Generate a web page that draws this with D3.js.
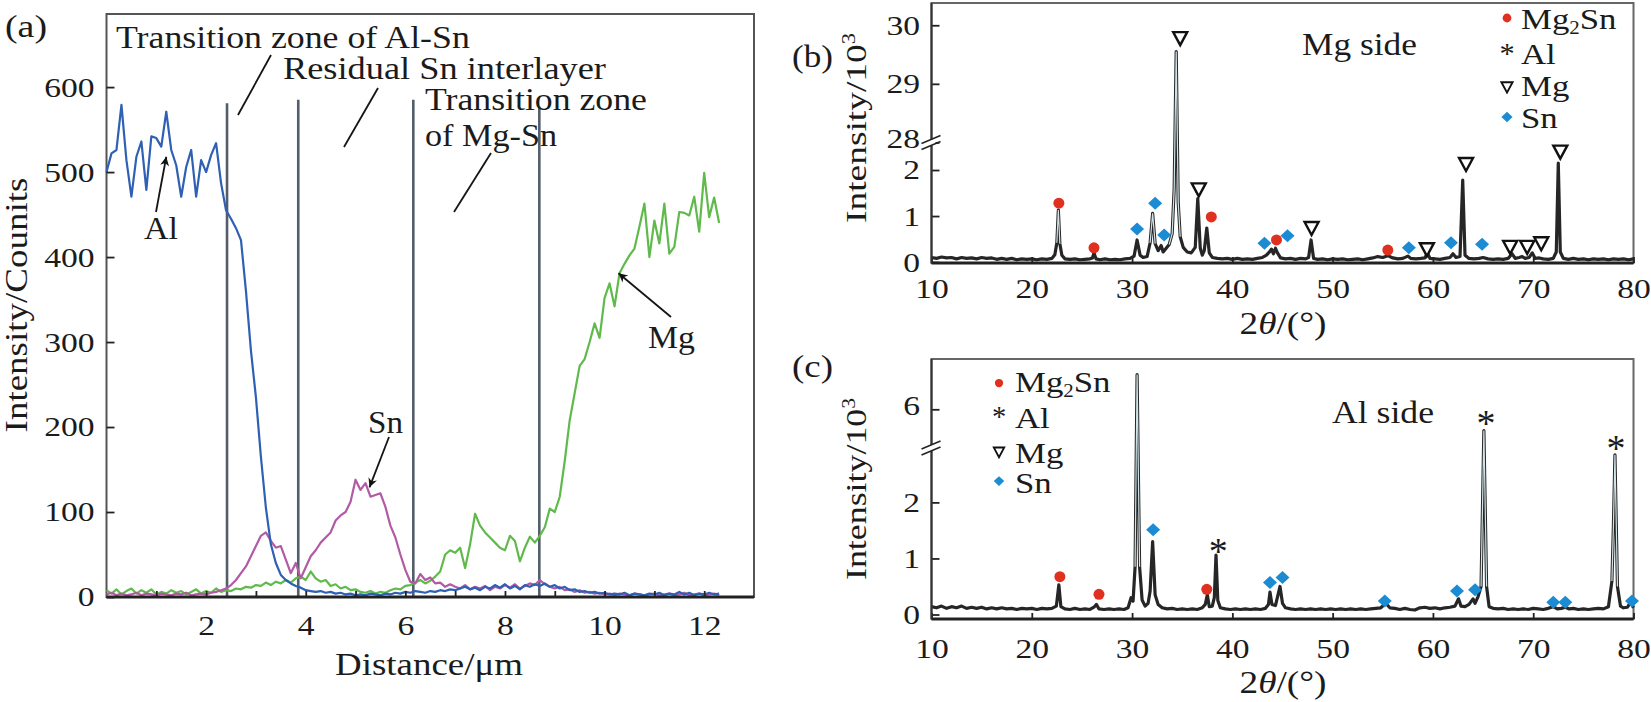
<!DOCTYPE html>
<html>
<head>
<meta charset="utf-8">
<script src="https://cdn.jsdelivr.net/npm/d3@7"></script>
<style>
  body { margin: 0; background: #fff; }
  text { font-family: "Liberation Serif", "Times New Roman", serif; fill: #1b1b1b; }
</style>
</head>
<body>
<script>
// ---- (a) EDS line scan across the joint, one reading every 0.1 um (0 .. 12.3)
var scanStep = 0.1;
var alCounts = [
  500, 522, 526, 579, 514, 471, 518, 536, 479, 542,
  540, 530, 571, 526, 508, 471, 506, 526, 471, 514,
  500, 520, 534, 487, 455, 445, 434, 420, 360, 290,
  235, 165, 105, 62, 40, 26, 20, 16, 13, 11,
  8, 7, 6, 7, 5, 6, 4, 5, 3, 4,
  2, 3, 2, 4, 3, 2, 4, 3, 5, 4,
  6, 5, 7, 6, 5, 7, 6, 8, 7, 9,
  8, 10, 12, 9, 11, 8, 12, 10, 14, 11,
  15, 10, 13, 9, 14, 12, 15, 13, 16, 12,
  14, 10, 12, 8, 9, 6, 7, 5, 6, 4,
  5, 3, 4, 3, 5, 2, 4, 3, 2, 4,
  3, 5, 2, 4, 3, 6, 3, 5, 2, 4,
  3, 5, 3, 4];
var snCounts = [
  3, 5, 2, 4, 2, 3, 5, 2, 4, 3,
  2, 4, 3, 2, 4, 3, 5, 2, 3, 4,
  3, 5, 6, 8, 10, 14, 20, 28, 36, 48,
  60, 72, 76, 66, 58, 60, 44, 28, 40, 22,
  35, 48, 55, 64, 70, 76, 90, 96, 100, 112,
  138, 126, 134, 118, 120, 122, 106, 84, 70, 50,
  32, 18, 16, 27, 20, 23, 16, 17, 12, 15,
  12, 10, 14, 9, 12, 10, 13, 8, 12, 10,
  14, 11, 15, 10, 13, 16, 14, 20, 15, 12,
  10, 12, 8, 9, 6, 8, 5, 6, 4, 5,
  3, 4, 2, 4, 3, 2, 4, 3, 2, 3,
  4, 2, 3, 4, 2, 3, 5, 2, 3, 4,
  2, 3, 4, 2];
var mgCounts = [
  8, 4, 9, 3, 7, 10, 4, 8, 5, 9,
  3, 6, 4, 8, 5, 7, 3, 6, 9, 4,
  7, 5, 10, 6, 8, 7, 10, 9, 12, 11,
  14, 13, 17, 14, 18, 16, 20, 17, 22, 24,
  20, 30, 22, 18, 20, 13, 15, 10, 12, 8,
  9, 6, 5, 7, 4, 6, 5, 8, 10, 9,
  13, 14, 17, 20, 16, 19, 24, 30, 50, 55,
  52, 58, 34, 62, 98, 84, 76, 70, 64, 58,
  55, 72, 66, 42, 58, 71, 64, 72, 82, 104,
  100, 118, 160, 208, 240, 272, 280, 300, 322, 305,
  352, 369, 342, 381, 392, 402, 410, 436, 463, 400,
  443, 416, 463, 404, 412, 453, 452, 449, 471, 430,
  499, 447, 470, 440];
var zoneBounds = [2.42, 3.85, 6.16, 8.69];
var zoneTops = [581, 585, 585, 577];
var distTicks = [1, 2, 3, 4, 5, 6, 7, 8, 9, 10, 11, 12];
var countTicks = [0, 100, 200, 300, 400, 500, 600];

// ---- (b) XRD, Mg side: [2theta, intensity / 10^3]
var mgSideScan = [
  [10,0.10],[10.5,0.08],[11,0.11],[11.5,0.09],[12,0.10],[12.5,0.07],[13,0.10],[13.5,0.08],[14,0.09],[14.5,0.07],
  [15,0.10],[15.5,0.08],[16,0.09],[16.5,0.06],[17,0.08],[17.5,0.06],[18,0.08],[18.5,0.05],[19,0.07],[19.5,0.06],
  [20,0.07],[20.5,0.05],[21,0.07],[21.5,0.06],[22,0.08],[22.3,0.16],[22.5,0.42],[22.65,1.13],[22.8,0.40],[23,0.15],
  [23.3,0.07],[23.8,0.06],[24.3,0.07],[24.8,0.05],[25.3,0.06],[25.8,0.07],[26.05,0.09],[26.2,0.20],[26.4,0.07],[26.8,0.05],
  [27.3,0.07],[27.8,0.05],[28.3,0.06],[28.8,0.05],[29.3,0.07],[29.8,0.08],[30.2,0.13],[30.5,0.48],[30.8,0.15],[31.1,0.10],
  [31.5,0.12],[31.8,0.42],[32.05,1.06],[32.3,0.40],[32.6,0.25],[32.9,0.36],[33.1,0.22],[33.4,0.30],[33.7,0.38],[34.0,0.62],
  [34.2,1.60],[34.4,29.55],[34.6,1.30],[34.8,0.55],[35.1,0.32],[35.5,0.22],[35.9,0.20],[36.3,0.32],[36.55,1.38],[36.8,0.30],
  [37.0,0.15],[37.2,0.25],[37.45,0.74],[37.7,0.20],[38.0,0.10],[38.5,0.08],[39,0.07],[39.5,0.08],[40,0.06],[40.5,0.08],
  [41,0.06],[41.5,0.07],[42,0.06],[42.5,0.08],[43,0.10],[43.4,0.15],[43.7,0.22],[43.9,0.28],[44.1,0.18],[44.3,0.30],
  [44.5,0.20],[44.8,0.09],[45.3,0.07],[45.8,0.08],[46.3,0.06],[46.8,0.08],[47.3,0.07],[47.6,0.10],[47.85,0.48],[48.1,0.08],
  [48.5,0.06],[49,0.07],[49.5,0.05],[50,0.07],[50.5,0.06],[51,0.07],[51.5,0.05],[52,0.06],[52.5,0.07],[53,0.05],
  [53.5,0.07],[54,0.09],[54.5,0.12],[55,0.10],[55.5,0.14],[56,0.09],[56.5,0.07],[57,0.08],[57.5,0.13],[57.8,0.08],
  [58.3,0.07],[58.8,0.08],[59.2,0.09],[59.45,0.20],[59.7,0.08],[60.2,0.07],[60.7,0.06],[61.2,0.08],[61.7,0.10],[62,0.18],
  [62.3,0.10],[62.7,0.12],[62.97,1.78],[63.2,0.15],[63.6,0.08],[64.1,0.07],[64.6,0.08],[65,0.10],[65.5,0.07],[66,0.06],
  [66.5,0.07],[67,0.06],[67.5,0.08],[67.9,0.18],[68.2,0.08],[68.6,0.10],[68.9,0.12],[69.2,0.08],[69.6,0.10],[69.9,0.20],
  [70.2,0.08],[70.6,0.09],[71,0.07],[71.5,0.06],[72,0.08],[72.3,0.22],[72.5,2.15],[72.7,0.22],[73,0.08],[73.5,0.06],
  [74,0.08],[74.5,0.06],[75,0.07],[75.5,0.05],[76,0.07],[76.5,0.06],[77,0.07],[77.5,0.05],[78,0.07],[78.5,0.06],
  [79,0.07],[79.5,0.05],[80,0.07]];
var mgSideMg2Sn = [[22.7,1.28],[26.2,0.31],[37.9,0.98],[44.4,0.48],[55.5,0.26]];
var mgSideSn = [[30.5,0.72],[32.3,1.28],[33.2,0.59],[43.2,0.41],[45.5,0.57],[57.6,0.31],[61.8,0.42],[64.9,0.39]];
var mgSideMg = [[34.8,29.78],[36.65,1.58],[47.9,0.74],[59.4,0.28],[63.3,2.13],[67.7,0.33],[69.4,0.33],[70.8,0.41],[72.7,2.40]];
var mgSideTicks = [0, 1, 2, 28, 29, 30];

// ---- (c) XRD, Al side
var alSideScan = [
  [10,0.14],[10.5,0.12],[11,0.15],[11.5,0.11],[12,0.14],[12.5,0.12],[13,0.15],[13.5,0.11],[14,0.13],[14.5,0.11],
  [15,0.13],[15.5,0.10],[16,0.12],[16.5,0.10],[17,0.12],[17.5,0.10],[18,0.11],[18.5,0.09],[19,0.11],[19.5,0.10],
  [20,0.11],[20.5,0.09],[21,0.11],[21.5,0.10],[22,0.11],[22.45,0.15],[22.7,0.53],[22.9,0.14],[23.3,0.10],[23.8,0.09],
  [24.3,0.11],[24.8,0.09],[25.3,0.10],[25.8,0.09],[26.2,0.13],[26.45,0.18],[26.7,0.10],[27.2,0.09],[27.7,0.10],[28.2,0.09],
  [28.7,0.10],[29.2,0.09],[29.6,0.12],[29.9,0.30],[30.1,0.24],[30.3,0.85],[30.5,6.90],[30.75,0.85],[31,0.26],[31.3,0.15],
  [31.6,0.20],[31.8,0.42],[32.05,1.30],[32.3,0.35],[32.6,0.18],[33,0.12],[33.5,0.10],[34,0.11],[34.5,0.09],[35,0.10],
  [35.5,0.09],[36,0.10],[36.5,0.09],[37,0.12],[37.3,0.18],[37.5,0.35],[37.7,0.14],[38,0.15],[38.2,0.30],[38.37,1.06],
  [38.55,0.25],[38.8,0.12],[39.3,0.10],[39.8,0.09],[40.3,0.10],[40.8,0.09],[41.3,0.10],[41.8,0.09],[42.3,0.10],[42.8,0.09],
  [43.3,0.11],[43.6,0.18],[43.75,0.40],[43.95,0.18],[44.3,0.16],[44.55,0.35],[44.75,0.50],[45,0.20],[45.3,0.12],[45.8,0.10],
  [46.3,0.09],[46.8,0.10],[47.3,0.09],[47.8,0.10],[48.3,0.09],[48.8,0.10],[49.3,0.09],[49.8,0.10],[50.3,0.09],[50.8,0.10],
  [51.3,0.09],[51.8,0.10],[52.3,0.09],[52.8,0.10],[53.3,0.09],[53.8,0.10],[54.3,0.11],[54.8,0.12],[55.3,0.20],[55.7,0.12],
  [56.2,0.11],[56.7,0.09],[57.2,0.11],[57.7,0.09],[58.2,0.08],[58.7,0.12],[59.2,0.13],[59.7,0.11],[60.2,0.12],[60.7,0.10],
  [61.2,0.12],[61.7,0.13],[62.2,0.15],[62.55,0.28],[62.8,0.15],[63.2,0.14],[63.6,0.18],[64,0.28],[64.2,0.20],[64.5,0.32],
  [64.8,0.50],[65.08,5.45],[65.35,0.50],[65.6,0.14],[66,0.11],[66.5,0.10],[67,0.11],[67.5,0.09],[68,0.10],[68.5,0.09],
  [69,0.10],[69.5,0.09],[70,0.11],[70.5,0.10],[71,0.09],[71.5,0.11],[72,0.14],[72.4,0.10],[72.8,0.11],[73.2,0.13],
  [73.6,0.10],[74,0.11],[74.5,0.09],[75,0.10],[75.5,0.09],[76,0.10],[76.5,0.11],[77,0.10],[77.5,0.14],[77.85,0.60],
  [78.0,1.60],[78.15,2.85],[78.4,0.50],[78.7,0.15],[79,0.12],[79.4,0.13],[79.7,0.22],[80,0.12]];
var alSideMg2Sn = [[22.8,0.675],[26.7,0.36],[37.45,0.45]];
var alSideSn = [[32.1,1.51],[43.75,0.57],[45.0,0.66],[55.2,0.24],[62.4,0.42],[64.2,0.44],[72.0,0.22],[73.2,0.22],[79.85,0.24]];
var alSideAl = [[38.6,1.24],[65.3,5.81],[78.25,5.15]];
var alSideTicks = [0, 1, 2, 6];

var thetaTicks = [10, 20, 30, 40, 50, 60, 70, 80];
var phaseKinds = ['circle', 'star', 'tri', 'diamond'];

var red = '#e0301f', blue = '#1b8bd3';

var svg = d3.select('body').append('svg')
  .attr('width', 1651)
  .attr('height', 702)
  .style('display', 'block');

svg.append('defs').append('marker')
  .attr('id', 'head')
  .attr('viewBox', '0 0 10 10')
  .attr('refX', 10).attr('refY', 5)
  .attr('markerWidth', 12).attr('markerHeight', 9)
  .attr('markerUnits', 'userSpaceOnUse')
  .attr('orient', 'auto')
  .append('path')
  .attr('d', 'M0,0L10,5L0,10L3,5Z')
  .attr('fill', '#111');

// the lettering in the figure is wider than Liberation Serif, so labels get stretched sideways
function label(parent, x, y, str, o) {
  o = o || {};
  var g = parent.append('g');
  var t = g.append('text')
    .attr('font-size', o.size || 30)
    .attr('text-anchor', o.anchor || 'start');
  if (typeof str === 'function') str(t); else t.text(str);
  var sx = o.width ? o.width / t.node().getComputedTextLength() : (o.sx || 1.16);
  g.attr('transform', 'translate(' + x + ',' + y + ')' +
    (o.rotate ? ' rotate(' + o.rotate + ')' : '') + ' scale(' + sx + ',1)');
  return t;
}

function styleAxis(g, size) {
  g.attr('font-size', size);
  g.select('.domain').remove();
  g.selectAll('.tick line').attr('stroke', '#222').attr('stroke-width', 1.8);
  g.selectAll('.tick text').attr('transform', 'scale(1.2,1)');
}

function arrow(g, x1, y1, x2, y2, head) {
  var l = g.append('line')
    .attr('x1', x1).attr('y1', y1).attr('x2', x2).attr('y2', y2)
    .attr('stroke', '#151515').attr('stroke-width', 1.8);
  if (head) l.attr('marker-end', 'url(#head)');
}

// phase symbols, s = size factor
function shape(g, kind, cx, cy, s) {
  if (kind === 'circle')
    return g.append('circle').attr('cx', cx).attr('cy', cy).attr('r', 5.5 * s).attr('fill', red);
  if (kind === 'diamond')
    return g.append('path')
      .attr('d', 'M' + cx + ',' + (cy - 6.5 * s) + 'L' + (cx + 7 * s) + ',' + cy +
        'L' + cx + ',' + (cy + 6.5 * s) + 'L' + (cx - 7 * s) + ',' + cy + 'Z')
      .attr('fill', blue);
  if (kind === 'tri')
    return g.append('path')
      .attr('d', 'M' + (cx - 7 * s) + ',' + (cy - 6 * s) + 'L' + (cx + 7 * s) + ',' + (cy - 6 * s) +
        'L' + cx + ',' + (cy + 7 * s) + 'Z')
      .attr('fill', '#fff').attr('stroke', '#111').attr('stroke-width', 2.4 * s);
  return g.append('text')
    .attr('x', cx).attr('y', cy).attr('dy', '0.5em')
    .attr('text-anchor', 'middle')
    .attr('font-size', 38 * s)
    .text('*');
}

function mg2sn(t) {
  t.append('tspan').text('Mg');
  t.append('tspan').attr('font-size', '0.6em').attr('dy', 5).text('2');
  t.append('tspan').attr('dy', -5).text('Sn');
}

// =========================== (a) ===========================
var xa = d3.scaleLinear().domain([0, 13]).range([106.5, 754]);
var ya = d3.scaleLinear().domain([0, 686]).range([597, 14]);
var pa = svg.append('g');

pa.append('rect')
  .attr('x', xa(0)).attr('y', ya(686))
  .attr('width', xa(13) - xa(0)).attr('height', ya(0) - ya(686))
  .attr('fill', 'none').attr('stroke', '#555').attr('stroke-width', 2);

// zone boundaries
pa.selectAll('line.zone')
  .data(zoneBounds)
  .join('line')
  .attr('class', 'zone')
  .attr('x1', function(d) { return xa(d); })
  .attr('x2', function(d) { return xa(d); })
  .attr('y1', ya(0))
  .attr('y2', function(d, i) { return ya(zoneTops[i]); })
  .attr('stroke', '#535d6b')
  .attr('stroke-width', 2.6);

var distance = alCounts.map(function(d, i) { return i * scanStep; });
var scanLine = d3.line()
  .x(function(d, i) { return xa(distance[i]); })
  .y(function(d) { return ya(d); });

[[mgCounts, '#5fba4b'], [snCounts, '#b25aa4'], [alCounts, '#2f60b4']].forEach(function(s) {
  pa.append('path')
    .datum(s[0])
    .attr('d', scanLine)
    .attr('fill', 'none')
    .attr('stroke', s[1])
    .attr('stroke-width', 2.2)
    .attr('stroke-linejoin', 'round');
});

pa.append('g')
  .attr('transform', 'translate(0,' + ya(0) + ')')
  .call(d3.axisBottom(xa).tickValues(distTicks)
    .tickFormat(function(d) { return d % 2 ? '' : d; })
    .tickSizeInner(-6).tickSizeOuter(0).tickPadding(18))
  .call(styleAxis, 28);

pa.append('g')
  .attr('transform', 'translate(' + xa(0) + ',0)')
  .call(d3.axisLeft(ya).tickValues(countTicks)
    .tickSizeInner(-8).tickSizeOuter(0).tickPadding(10))
  .call(styleAxis, 28);

pa.append('line')
  .attr('x1', xa(0)).attr('x2', xa(13)).attr('y1', ya(0)).attr('y2', ya(0))
  .attr('stroke', '#222').attr('stroke-width', 3);

label(pa, 5, 37, '(a)', {size: 32, width: 42});
label(pa, 116, 48, 'Transition zone of Al-Sn', {size: 32, width: 354});
label(pa, 283, 79, 'Residual Sn interlayer', {size: 32, width: 323});
label(pa, 425, 110, 'Transition zone', {size: 32, width: 222});
label(pa, 425, 146, 'of Mg-Sn', {size: 32, width: 132});
arrow(pa, 271, 55, 238, 115);
arrow(pa, 378, 88, 344, 147);
arrow(pa, 491, 153, 454, 212);

label(pa, 144, 239, 'Al', {size: 31, width: 34});
arrow(pa, 156, 212, xa(1.2), ya(518), true);
label(pa, 368, 433, 'Sn', {size: 31, width: 35});
arrow(pa, 389, 437, xa(5.28), ya(129), true);
label(pa, 648, 348, 'Mg', {size: 31, width: 47});
arrow(pa, 671, 317, xa(10.28), ya(381), true);

label(pa, 27, 305, 'Intensity/Counits', {size: 31, anchor: 'middle', rotate: -90, width: 255});
label(pa, 429, 675, 'Distance/\u03bcm', {size: 32, anchor: 'middle', width: 188});

// ======================= (b) and (c) =======================
function xrdPanel(o) {
  var g = svg.append('g');
  var x = d3.scaleLinear().domain([10, 80]).range([931.5, 1633.5]);
  // broken axis: a lower segment and an upper segment meeting at the break
  var y = d3.scaleLinear().domain(o.yDomain).range(o.yRange);
  var top = o.yRange[3], bottom = o.yRange[0], brk = o.yRange[1];

  g.append('rect')
    .attr('x', x(10)).attr('y', top)
    .attr('width', x(80) - x(10)).attr('height', bottom - top)
    .attr('fill', 'none').attr('stroke', '#666').attr('stroke-width', 2);

  var line = d3.line()
    .x(function(d) { return x(d[0]); })
    .y(function(d) { return y(d[1]); });
  g.append('path')
    .datum(o.scan)
    .attr('d', line)
    .attr('fill', 'none')
    .attr('stroke', '#262626')
    .attr('stroke-width', 3.2)
    .attr('stroke-linejoin', 'round');
  g.append('path')
    .datum(o.scan)
    .attr('d', line.defined(function(d) { return d[1] > o.lightFrom; }))
    .attr('fill', 'none')
    .attr('stroke', '#cfe3e8')
    .attr('stroke-width', 1.2);

  g.append('g')
    .attr('transform', 'translate(0,' + bottom + ')')
    .call(d3.axisBottom(x).tickValues(thetaTicks)
      .tickSizeInner(-6).tickSizeOuter(0).tickPadding(o.xPad))
    .call(styleAxis, 28);
  var yAxis = g.append('g')
    .attr('transform', 'translate(' + x(10) + ',0)')
    .call(d3.axisLeft(y).tickValues(o.yTicks)
      .tickSizeInner(-8).tickSizeOuter(0).tickPadding(9.5))
    .call(styleAxis, 28);
  // the label sitting on the break is lifted a little off the one below it
  yAxis.selectAll('.tick text')
    .filter(function(d) { return d === o.yTicks[3]; })
    .attr('y', -4);
  g.append('line')
    .attr('x1', x(10)).attr('x2', x(80)).attr('y1', bottom).attr('y2', bottom)
    .attr('stroke', '#222').attr('stroke-width', 3);
  g.append('line')
    .attr('x1', x(10)).attr('x2', x(10)).attr('y1', bottom).attr('y2', top)
    .attr('stroke', '#333').attr('stroke-width', 2);

  // break marks
  g.append('rect').attr('x', x(10) - 4).attr('y', brk - 3).attr('width', 8).attr('height', 6).attr('fill', '#fff');
  [-3, 3].forEach(function(off) {
    g.append('line')
      .attr('x1', x(10) - 10).attr('y1', brk + off + 4)
      .attr('x2', x(10) + 9).attr('y2', brk + off - 4)
      .attr('stroke', '#222').attr('stroke-width', 1.6);
  });

  // phase markers
  o.phases.forEach(function(p) {
    var mg = g.append('g');
    p.pts.forEach(function(d) { shape(mg, p.kind, x(d[0]), y(d[1]), 1); });
  });

  // legend
  var lg = g.append('g');
  phaseKinds.forEach(function(k, i) {
    shape(lg, k, o.legend.mx, o.legend.my[i], o.legend.s);
    label(lg, o.legend.tx, o.legend.ty[i], i === 0 ? mg2sn : ['', 'Al', 'Mg', 'Sn'][i], {size: 30});
  });

  label(g, o.title[0], o.title[1], o.title[2], {size: 32, width: 41});
  label(g, o.note[0], o.note[1], o.note[2], {size: 32, width: o.note[3]});
  label(g, 866, o.yLabel[0], function(t) {
    t.append('tspan').text('Intensity/10');
    t.append('tspan').attr('font-size', '0.6em').attr('dy', -11).text('3');
  }, {size: 30, anchor: 'middle', rotate: -90, width: o.yLabel[1]});
  label(g, 1283, o.xLabelY, function(t) {
    t.append('tspan').text('2');
    t.append('tspan').attr('font-style', 'italic').text('\u03b8');
    t.append('tspan').text('/(\u00b0)');
  }, {size: 32, anchor: 'middle', width: 87});
}

xrdPanel({
  scan: mgSideScan,
  yDomain: [-0.02, 2.6, 28, 30.38],
  yRange: [263, 142.4, 142.4, 3],
  yTicks: mgSideTicks,
  lightFrom: 0.35,
  xPad: 15,
  phases: [
    {kind: 'circle', pts: mgSideMg2Sn},
    {kind: 'diamond', pts: mgSideSn},
    {kind: 'tri', pts: mgSideMg}
  ],
  legend: {mx: 1507, tx: 1521, my: [18, 48, 87, 117], ty: [29, 64, 96, 128], s: 0.8},
  title: [792, 67, '(b)'],
  note: [1302, 55, 'Mg side', 115],
  yLabel: [128, 190],
  xLabelY: 334
});

xrdPanel({
  scan: alSideScan,
  yDomain: [-0.08, 2.97, 5, 7.3],
  yRange: [619, 448, 448, 359],
  yTicks: alSideTicks,
  lightFrom: 0.45,
  xPad: 19,
  phases: [
    {kind: 'circle', pts: alSideMg2Sn},
    {kind: 'diamond', pts: alSideSn},
    {kind: 'star', pts: alSideAl}
  ],
  legend: {mx: 999, tx: 1015, my: [383, 412, 452, 481], ty: [392, 428, 463, 493], s: 0.75},
  title: [792, 377, '(c)'],
  note: [1332, 423, 'Al side', 102],
  yLabel: [489, 182],
  xLabelY: 693
});
</script>
</body>
</html>
